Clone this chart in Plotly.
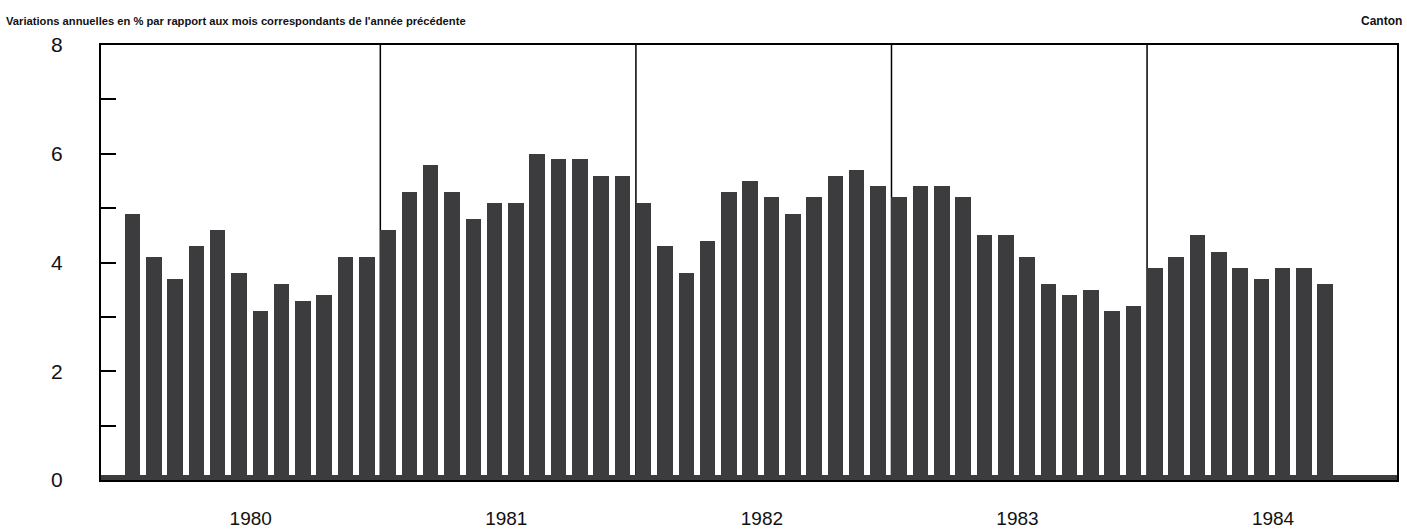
import plotly.graph_objects as go

years = ["1980", "1981", "1982", "1983", "1984"]
months_per_year = 12
values = [
    4.9, 4.1, 3.7, 4.3, 4.6, 3.8, 3.1, 3.6, 3.3, 3.4, 4.1, 4.1,   # 1980
    4.6, 5.3, 5.8, 5.3, 4.8, 5.1, 5.1, 6.0, 5.9, 5.9, 5.6, 5.6,   # 1981
    5.1, 4.3, 3.8, 4.4, 5.3, 5.5, 5.2, 4.9, 5.2, 5.6, 5.7, 5.4,   # 1982
    5.2, 5.4, 5.4, 5.2, 4.5, 4.5, 4.1, 3.6, 3.4, 3.5, 3.1, 3.2,   # 1983
    3.9, 4.1, 4.5, 4.2, 3.9, 3.7, 3.9, 3.9, 3.6,                  # 1984 (jan-sep)
]
y_tick_vals = [0, 1, 2, 3, 4, 5, 6, 7, 8]
y_tick_text = ["0", "", "2", "", "4", "", "6", "", "8"]

title_left = "Variations annuelles en % par rapport aux mois correspondants de l'année précédente"
title_right = "Canton"

BAR_COLOR = "#3c3c3e"
BAR_W = 0.73
X_MIN, X_MAX = -1.48, 59.37

x_idx = list(range(len(values)))
year_centers = [i * months_per_year + 5.55 for i in range(len(years))]
separators = [i * months_per_year - BAR_W / 2 for i in range(1, len(years))]

FIG_W, FIG_H = 1407, 530
ML, MR, MT, MB = 101, 10, 45, 50
PW, PH = FIG_W - ML - MR, FIG_H - MT - MB
FONT = "Liberation Sans, Arial, sans-serif"

fig = go.Figure()
fig.add_trace(go.Bar(
    x=x_idx, y=values, width=BAR_W,
    marker=dict(color=BAR_COLOR, line=dict(width=0)),
    hoverinfo="y",
))

shapes = []
for s in separators:
    shapes.append(dict(type="line", xref="x", yref="y", x0=s, x1=s, y0=0, y1=8,
                       line=dict(color="black", width=1.5), layer="below"))
shapes.append(dict(type="rect", xref="x", yref="y", x0=X_MIN, x1=X_MAX, y0=0, y1=0.09,
                   line=dict(width=0), fillcolor=BAR_COLOR, layer="above"))

fig.update_layout(
    width=FIG_W, height=FIG_H,
    margin=dict(l=ML, r=MR, t=MT, b=MB, autoexpand=False),
    paper_bgcolor="white", plot_bgcolor="white",
    showlegend=False,
    bargap=0,
    font=dict(family=FONT, color="#111111"),
    shapes=shapes,
    xaxis=dict(
        range=[X_MIN, X_MAX], automargin=False,
        tickmode="array", tickvals=year_centers, ticktext=years,
        ticks="", showgrid=False, zeroline=False,
        showline=True, mirror=True, linecolor="black", linewidth=2,
        tickfont=dict(size=19, color="#111111"),
        ticklabelstandoff=20,
    ),
    yaxis=dict(
        range=[0, 8], automargin=False,
        tickmode="array", tickvals=y_tick_vals, ticktext=y_tick_text,
        ticks="inside", ticklen=15, tickwidth=2, tickcolor="black",
        showgrid=False, zeroline=False,
        showline=True, mirror=True, linecolor="black", linewidth=2,
        tickfont=dict(size=21, color="#111111"),
        ticklabelstandoff=32,
    ),
    annotations=[
        dict(text="<b>" + title_left + "</b>", xref="paper", yref="paper", x=-(ML - 4) / PW, y=1 + 24 / PH,
             xanchor="left", yanchor="middle", showarrow=False,
             font=dict(size=11.2, color="#111111", family=FONT)),
        dict(text="<b>" + title_right + "</b>", xref="paper", yref="paper", x=1 + 7 / PW, y=1 + 24 / PH,
             xanchor="right", yanchor="middle", showarrow=False,
             font=dict(size=12, color="#111111", family=FONT)),
    ],
)

fig.write_html("out.html", config={"displayModeBar": False},
               post_script="document.body.style.margin='0px';document.body.style.overflow='hidden';")
